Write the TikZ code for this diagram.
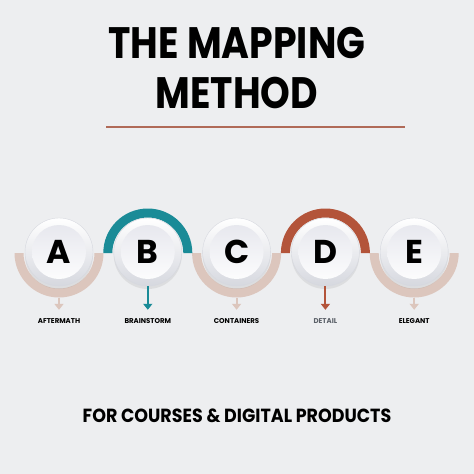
\documentclass[tikz,border=0pt]{standalone}
\usepackage{fontspec}
\setmainfont{Poppins}
\newfontfamily\headfont[FakeStretch=0.86]{Poppins}
\newfontfamily\footfont[FakeStretch=0.92]{Poppins}
\usetikzlibrary{positioning,arrows.meta,shadows}
\definecolor{bgcol}{HTML}{EDEEF0}
\definecolor{sand}{HTML}{DCC6BD}
\definecolor{teal}{HTML}{1A8B97}
\definecolor{rust}{HTML}{B3543A}
\definecolor{rulecol}{HTML}{B06A58}
\definecolor{discedge}{HTML}{D6D8DF}
\definecolor{discin}{HTML}{E4E5EC}
\definecolor{detailgray}{HTML}{5B6068}
\pgfdeclarelayer{background}
\pgfsetlayers{background,main}

\begin{document}
\begin{tikzpicture}[x=1pt,y=1pt,on grid,node distance=88.8pt,
   disc/.style={circle,minimum size=68pt,inner sep=0pt,top color=white,bottom color=discedge,
     draw=discedge,line width=0.4pt,
     drop shadow={shadow xshift=0pt,shadow yshift=-3pt,opacity=0.15},
     font=\fontsize{33}{33}\selectfont\bfseries,
     path picture={\shade[top color=discin,bottom color=white]
       (path picture bounding box.center) circle[radius=27pt];}},
   tag/.style={inner sep=0pt,font=\fontsize{7}{7}\selectfont\bfseries},
   heading/.style={anchor=base,font=\headfont\fontsize{44}{44}\selectfont\bfseries},
   lowring/.style={fill=sand},
   pointer/.style={line width=2pt,shorten >=9pt,-{Triangle[width=9pt,length=6pt]}}]

   \node[heading] (title1) at (237,-58) {THE MAPPING};
   \node[heading] (title2) at (237,-108) {METHOD};
   \draw[rulecol,line width=1.2pt] (106,-127) -- (405,-127);

   \node[disc] (cA) at (59,-252) {A};
   \node[disc] (cB) [right=of cA] {B};
   \node[disc] (cC) [right=of cB] {C};
   \node[disc] (cD) [right=of cC] {D};
   \node[disc] (cE) [right=of cD] {E};

   \node[tag] (lA) [below=69.5pt of cA] {AFTERMATH};
   \node[tag] (lB) [below=69.5pt of cB] {BRAINSTORM};
   \node[tag] (lC) [below=69.5pt of cC] {CONTAINERS};
   \node[tag,text=detailgray] (lD) [below=69.5pt of cD] {DETAIL};
   \node[tag] (lE) [below=69.5pt of cE] {ELEGANT};

   \begin{pgfonlayer}{background}
   \fill[bgcol] (0,0) rectangle (474,-474);
   \foreach \n in {A,C,E}
     \fill[lowring] ([xshift=-44.5pt,yshift=-1pt]c\n.center) arc[start angle=180,end angle=360,radius=44.5pt]
       -- ++(-9,0) arc[start angle=0,end angle=-180,radius=35.5pt] -- cycle;
   \fill[teal] ([xshift=-44.5pt,yshift=-1pt]cB.center) arc[start angle=180,end angle=0,radius=44.5pt]
       -- ++(-9,0) arc[start angle=0,end angle=180,radius=35.5pt] -- cycle;
   \fill[rust] ([xshift=-44.5pt,yshift=-1pt]cD.center) arc[start angle=180,end angle=0,radius=44.5pt]
       -- ++(-9,0) arc[start angle=0,end angle=180,radius=35.5pt] -- cycle;
   \end{pgfonlayer}

   \foreach \n in {A,C,E}
     \draw[pointer,sand] ([yshift=-45.5pt]c\n.center) -- (l\n.north);
   \draw[pointer,teal] (cB.south) -- (lB.north);
   \draw[pointer,rust] (cD.south) -- (lD.north);

   \node[anchor=base,font=\footfont\fontsize{19}{19}\selectfont\bfseries] (footer) at (237,-422)
     {FOR COURSES \& DIGITAL PRODUCTS};
\end{tikzpicture}
\end{document}
